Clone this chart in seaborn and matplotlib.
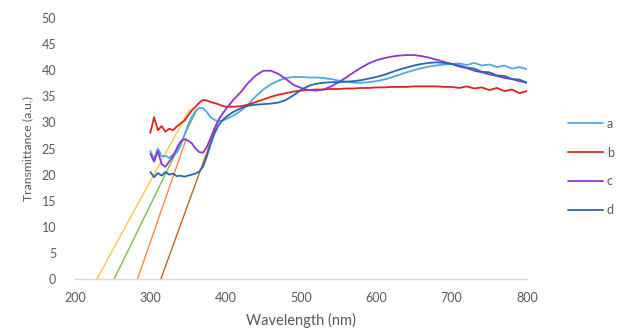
import numpy as np
import pandas as pd
import matplotlib
matplotlib.use("Agg")
import matplotlib.pyplot as plt
import seaborn as sns

# Wavelength grid (nm): 5 nm steps to 400, then 10 nm steps
wavelength = [300, 305, 310, 315, 320, 325, 330, 335, 340, 345, 350, 355, 360,
              365, 370, 375, 380, 385, 390, 395, 400,
              410, 420, 430, 440, 450, 460, 470, 480, 490, 500,
              510, 520, 530, 540, 550, 560, 570, 580, 590, 600,
              610, 620, 630, 640, 650, 660, 670, 680, 690, 700,
              710, 720, 730, 740, 750, 760, 770, 780, 790, 800]

trans_a = [24.5, 23.0, 25.0, 23.5, 23.6, 23.2, 23.8, 24.2, 25.5, 27.5, 29.5, 31.0, 32.2,
           32.8, 32.7, 32.0, 31.0, 30.5, 30.2, 30.3, 30.6,
           31.3, 32.2, 33.5, 35.0, 36.3, 37.3, 38.0, 38.5, 38.7, 38.7,
           38.6, 38.6, 38.5, 38.3, 38.0, 37.8, 37.6, 37.6, 37.7, 37.9,
           38.2, 38.6, 39.1, 39.6, 40.0, 40.4, 40.7, 40.9, 41.1, 41.2,
           41.3, 41.0, 41.4, 40.9, 41.1, 40.6, 40.9, 40.3, 40.6, 40.2]

trans_b = [28.0, 31.0, 28.5, 29.3, 28.2, 28.8, 28.5, 29.2, 29.8, 30.3, 31.3, 32.3, 33.0,
           33.8, 34.3, 34.2, 33.9, 33.7, 33.5, 33.2, 33.0,
           33.0, 33.1, 33.4, 33.9, 34.4, 34.9, 35.3, 35.6, 35.9, 36.1,
           36.2, 36.3, 36.3, 36.4, 36.4, 36.5, 36.5, 36.6, 36.6, 36.7,
           36.7, 36.8, 36.8, 36.8, 36.9, 36.9, 36.9, 36.9, 36.8, 36.8,
           36.6, 36.9, 36.5, 36.7, 36.2, 36.6, 36.0, 36.3, 35.6, 36.0]

trans_c = [24.0, 22.5, 24.5, 22.0, 21.5, 22.5, 23.5, 25.0, 26.3, 26.8, 26.5, 26.0, 25.0,
           24.3, 24.2, 25.3, 27.0, 28.8, 30.3, 31.5, 32.5,
           34.3, 35.8, 37.6, 39.0, 39.9, 39.9, 39.3, 38.3, 37.2, 36.6,
           36.2, 36.1, 36.3, 36.9, 37.7, 38.6, 39.6, 40.5, 41.3, 41.9,
           42.3, 42.6, 42.8, 42.9, 42.9, 42.7, 42.4, 42.0, 41.6, 41.2,
           40.7, 40.4, 39.9, 39.6, 39.2, 38.9, 38.5, 38.3, 37.9, 37.6]

trans_d = [20.5, 19.5, 20.3, 19.8, 20.5, 20.0, 20.2, 19.7, 19.8, 19.6, 19.8, 20.0, 20.2,
           20.6, 21.5, 23.5, 25.8, 27.8, 29.3, 30.3, 31.0,
           32.0, 32.7, 33.2, 33.4, 33.5, 33.6, 33.8, 34.3, 35.2, 36.2,
           37.0, 37.4, 37.6, 37.7, 37.7, 37.8, 37.9, 38.1, 38.4, 38.7,
           39.1, 39.6, 40.1, 40.5, 40.9, 41.2, 41.4, 41.5, 41.4, 41.2,
           40.9, 40.5, 40.3, 39.7, 39.6, 39.0, 38.9, 38.3, 38.2, 37.6]

samples = ["a", "b", "c", "d"]
sample_colors = ["#4FA8E6", "#E0231C", "#8E35D4", "#2767B0"]

# Linear extrapolations of the absorption edges down to zero transmittance
edge_names = ["ea", "eb", "ec", "ed"]
edge_x = [[229, 352], [252, 362], [283, 348], [314, 392]]
edge_y = [[0, 32.5], [0, 32.5], [0, 27.0], [0, 31.0]]
edge_colors = ["#F7C843", "#78BE48", "#EE8A50", "#C0661E"]

x_ticks = [200, 300, 400, 500, 600, 700, 800]
y_ticks = [0, 5, 10, 15, 20, 25, 30, 35, 40, 45, 50]

sns.set_theme(style="white")
plt.rcParams["font.family"] = ["Lato", "DejaVu Sans"]
text_color = "#595959"

fig = plt.figure(figsize=(6.22, 3.36), dpi=100)
ax = fig.add_axes([75 / 622, 1 - 279 / 336, 452 / 622, 261 / 336])

spectra = pd.DataFrame({
    "wavelength": wavelength * 4,
    "transmittance": trans_a + trans_b + trans_c + trans_d,
    "sample": [s for s in samples for _ in wavelength],
})

edges = pd.DataFrame({
    "wavelength": [v for xs in edge_x for v in xs],
    "transmittance": [v for ys in edge_y for v in ys],
    "edge": [n for n in edge_names for _ in range(2)],
})

sns.lineplot(data=edges, x="wavelength", y="transmittance", hue="edge",
             palette=dict(zip(edge_names, edge_colors)), linewidth=1.0,
             legend=False, ax=ax, sort=False)

sns.lineplot(data=spectra, x="wavelength", y="transmittance", hue="sample",
             palette=dict(zip(samples, sample_colors)), linewidth=1.3,
             ax=ax, sort=False)

ax.set_xlim(200, 800)
ax.set_ylim(0, 50)
ax.set_xticks(x_ticks)
ax.set_yticks(y_ticks)
ax.tick_params(axis="both", length=0, labelsize=9, colors=text_color)
ax.tick_params(axis="x", pad=9.5)
ax.tick_params(axis="y", pad=13.5)

for side in ["left", "top", "right"]:
    ax.spines[side].set_visible(False)
ax.spines["bottom"].set_color("#D9D9D9")
ax.spines["bottom"].set_linewidth(1.0)

ax.set_xlabel("Wavelength (nm)", fontsize=10.5, color=text_color, labelpad=6)
ax.set_ylabel("Transmittance (a.u.)", fontsize=8.8, color=text_color, labelpad=6)

handles, labels = ax.get_legend_handles_labels()
leg = ax.legend(handles, labels, loc="center left",
                bbox_to_anchor=(568 / 622, 1 - 167 / 336),
                bbox_transform=fig.transFigure, frameon=False,
                fontsize=9, labelspacing=1.35, handlelength=2.8,
                handletextpad=0.3, borderpad=0, borderaxespad=0)
for t in leg.get_texts():
    t.set_color(text_color)
for h in leg.get_lines():
    h.set_linewidth(1.3)

fig.savefig("out.png", dpi=100)
